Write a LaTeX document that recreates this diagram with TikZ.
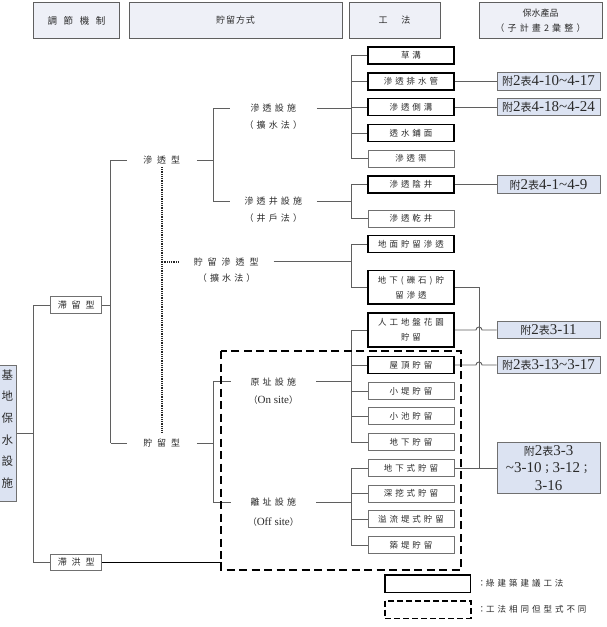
\documentclass[tikz,border=0pt]{standalone}
\usepackage{fontspec}
\setmainfont{Liberation Serif}
\newfontfamily\cjk{Noto Sans CJK TC}
\newfontfamily\cjka[LetterSpace=35]{Noto Sans CJK TC}
\newfontfamily\cjkb[LetterSpace=55]{Noto Sans CJK TC}
\newfontfamily\cjkc[LetterSpace=70]{Noto Sans CJK TC}
\usetikzlibrary{calc}
\definecolor{prodfill}{HTML}{DCE3F2}
\definecolor{hdrfill}{HTML}{EEF0F7}
\definecolor{ln}{HTML}{5F5F5F}
\definecolor{thinb}{HTML}{707070}
\definecolor{tx}{HTML}{2A2A2A}
\newcommand\fu{{\cjk\fontsize{11}{11}\selectfont 附}}
\newcommand\bi{{\cjk\fontsize{11}{11}\selectfont 表}}
\newcommand\sm{{\cjk\fontsize{11}{11}\selectfont ；}}
\begin{document}
\begin{tikzpicture}[x=1pt,y=-1pt,
  bb/.style={draw=black,line width=1.5pt,minimum width=86pt,minimum height=17pt,inner sep=0pt,
    font=\cjka\fontsize{8.5}{15}\selectfont,text=tx,align=center},
  bt/.style={bb,draw=thinb,line width=1pt},
  prod/.style={draw=thinb,fill=prodfill,line width=1pt,minimum width=103pt,minimum height=17.5pt,
    inner sep=0pt,font=\fontsize{15}{17.5}\selectfont,text=tx,align=center},
  hd/.style={draw=ln,fill=hdrfill,line width=0.9pt,minimum height=35.5pt,inner sep=0pt,text=tx,align=center},
  lab/.style={inner sep=1pt,minimum height=0pt,text=tx,align=center},
  laba/.style={lab,font=\cjka\fontsize{9}{12}\selectfont},
  labb/.style={lab,font=\cjkb\fontsize{9}{12}\selectfont},
  cn/.style={draw=ln,line width=0.9pt},
  dotl/.style={draw=black!85,line width=2pt,dash pattern=on 0.9pt off 0.9pt},
  dsh/.style={draw=black,line width=2.2pt,dash pattern=on 8pt off 4.5pt},
  thk/.style={draw=black,line width=1.6pt}
]
\useasboundingbox[fill=white] (0,0) rectangle (606,627);

% headers
\node[hd,minimum width=86pt,font=\cjkc\fontsize{9.5}{12}\selectfont] (h1) at (76.5,20.5) {調節機制};
\node[hd,minimum width=213pt,font=\cjk\fontsize{9}{12}\selectfont] (h2) at (235.5,20.5) {貯\hspace{1pt}留\hspace{1pt}方\hspace{1pt}式};
\node[hd,minimum width=91pt,font=\cjk\fontsize{9}{12}\selectfont] (h3) at (394.5,20.5) {工\hspace{14pt}法};
\node[hd,minimum width=123pt,font=\cjk\fontsize{9}{15}\selectfont] (h4) at (540.5,20.5) {保水產品\\{\cjka（子計畫2彙整）}};

% left main box
\node[draw=thinb,fill=prodfill,line width=1pt,minimum width=26pt,minimum height=136.7pt,inner sep=0pt] (main) at (3,433.35) {};
\node[lab,font=\cjk\fontsize{11.5}{21.6}\selectfont] (maint) at (7.5,429) {基\\地\\保\\水\\設\\施};

% column 2
\node[bt,minimum width=51pt,minimum height=16.6pt,font=\cjkb\fontsize{9}{12}\selectfont] (dl) at (76.2,305) {滯留型};
\node[bt,minimum width=51pt,minimum height=16.6pt,font=\cjkb\fontsize{9}{12}\selectfont] (dh) at (76.2,562.3) {滯洪型};

% column 3 / 4 labels
\node[labb,minimum width=70pt] (st) at (161.7,160) {滲透型};
\node[labb,minimum width=70pt] (zl) at (161.7,443) {貯留型};
\node[laba,minimum width=86.7pt] (ss) at (273.3,108.3) {滲透設施};
\node[laba] (ssp) at (273.3,125) {（擴水法）};
\node[laba,minimum width=86.7pt] (sj) at (273.3,201) {滲透井設施};
\node[laba] (sjp) at (273.3,218.3) {（井戶法）};
\node[labb,minimum width=94.3pt] (rs) at (226.2,261.7) {貯留滲透型};
\node[laba] (rsp) at (226.7,278.3) {（擴水法）};
\node[laba,minimum width=85pt] (yz) at (273.3,381.7) {原址設施};
\node[lab,font=\fontsize{11}{13}\selectfont] (yzp) at (273.3,400) {{\cjk\fontsize{9}{12}\selectfont （}On site{\cjk\fontsize{9}{12}\selectfont ）}};
\node[laba,minimum width=85pt] (lz) at (273.3,502) {離址設施};
\node[lab,font=\fontsize{11}{13}\selectfont] (lzp) at (273.3,521.7) {{\cjk\fontsize{9}{12}\selectfont （}Off site{\cjk\fontsize{9}{12}\selectfont ）}};

% column 5 boxes
\node[bb] (b1) at (411,55.3) {草溝};
\node[bb] (b2) at (411,81.3) {滲透排水管};
\node[bb] (b3) at (411,107) {滲透側溝};
\node[bb] (b4) at (411,133) {透水鋪面};
\node[bt] (b5) at (411,158.5) {滲透渠};
\node[bb] (b6) at (411,184.5) {滲透陰井};
\node[bt] (b7) at (411,218.5) {滲透乾井};
\node[bb] (b8) at (411,244.2) {地面貯留滲透};
\node[bb,minimum height=33.3pt] (b9) at (411,287.3) {地下(礫石)貯\\留滲透};
\node[bb,minimum height=34pt] (b10) at (411,330) {人工地盤花園\\貯留};
\node[bb] (b11) at (411,365) {屋頂貯留};
\node[bt] (b12) at (411,391.3) {小堤貯留};
\node[bt] (b13) at (411,416.3) {小池貯留};
\node[bt] (b14) at (411,442) {地下貯留};
\node[bt] (b15) at (411,468) {地下式貯留};
\node[bt] (b16) at (411,493.5) {深挖式貯留};
\node[bt] (b17) at (411,519) {溢流堤式貯留};
\node[bt] (b18) at (411,545) {築堤貯留};

% products
\node[prod] (pA) at (548.5,81.3) {\fu2\bi 4-10\textasciitilde 4-17};
\node[prod] (pB) at (548.5,107) {\fu2\bi 4-18\textasciitilde 4-24};
\node[prod] (pC) at (548.5,184.5) {\fu2\bi 4-1\textasciitilde 4-9};
\node[prod] (pD) at (548.5,330) {\fu2\bi 3-11};
\node[prod] (pE) at (548.5,365) {\fu2\bi 3-13\textasciitilde 3-17};
\node[prod,minimum height=51pt] (pF) at (548.5,468) {\fu2\bi 3-3\\\textasciitilde 3-10\sm 3-12\sm\\3-16};

% coordinates
\coordinate (t0) at (33.3,433.35);
\coordinate (t1) at (33.3,305);
\coordinate (t2) at (33.3,562.3);
\coordinate (u1) at (110.7,160);
\coordinate (u2) at (110.7,443);
\coordinate (w1) at (213.3,108.3);
\coordinate (w2) at (213.3,201);
\coordinate (w3) at (213.3,381.7);
\coordinate (w4) at (213.3,502);
\coordinate (g) at (351,0);
\coordinate (h) at (479,0);
\coordinate (d1) at (161.7,167);
\coordinate (d2) at (161.7,432);
\coordinate (r1) at (220.7,351);
\coordinate (r2) at (461,570);

% connectors
\draw[cn] (main.east |- t0) -- (t0);
\draw[cn] (t1) -- (t2);
\draw[cn] (t1) -- (dl.west);
\draw[cn] (t2) -- (dh.west);
\draw[cn] (dl.east) -- (dl.east -| u1);
\draw[cn] (u1) -- (u2);
\draw[cn] (u1) -- (st.west);
\draw[cn] (u2) -- (zl.west);
\draw[cn] (st.east) -- (st.east -| w1);
\draw[cn] (w1) -- (w2);
\draw[cn] (w1) -- (ss.west);
\draw[cn] (w2) -- (sj.west);
\draw[cn] (zl.east) -- (zl.east -| w3);
\draw[cn] (w3) -- (w4);
\draw[cn] (w3) -- (yz.west);
\draw[cn] (w4) -- (lz.west);
\draw[dotl] (d1) -- (d2);
\draw[dotl] (d1 |- rs.west) -- (rs.west);

% column 5 groups
\draw[cn] (b1.west -| g) -- (b5.west -| g);
\foreach \b in {b1,b2,b3,b4,b5} {\draw[cn] (\b.west -| g) -- (\b.west);}
\draw[cn] (ss.east) -- (ss.east -| g);
\draw[cn] (b6.west -| g) -- (b7.west -| g);
\foreach \b in {b6,b7} {\draw[cn] (\b.west -| g) -- (\b.west);}
\draw[cn] (sj.east) -- (sj.east -| g);
\draw[cn] (b8.west -| g) -- (b9.west -| g);
\foreach \b in {b8,b9} {\draw[cn] (\b.west -| g) -- (\b.west);}
\draw[cn] (rs.east) -- (rs.east -| g);
\draw[cn] (b10.west -| g) -- (b14.west -| g);
\foreach \b in {b10,b11,b12,b13,b14} {\draw[cn] (\b.west -| g) -- (\b.west);}
\draw[cn] (yz.east) -- (yz.east -| g);
\draw[cn] (b15.west -| g) -- (b18.west -| g);
\foreach \b in {b15,b16,b17,b18} {\draw[cn] (\b.west -| g) -- (\b.west);}
\draw[cn] (lz.east) -- (lz.east -| g);

% to products
\draw[cn] (b2.east) -- (pA.west);
\draw[cn] (b3.east) -- (pB.west);
\draw[cn] (b6.east) -- (pC.west);
\draw[cn] (b9.east) -- (b9.east -| h) -- (b15.east -| h);
\draw[cn] (b15.east) -- (pF.west);
\draw[cn] (b10.east) -- ($(b10.east -| h)+(-3,0)$) arc[start angle=180,end angle=0,radius=3pt] -- (pD.west);
\draw[cn] (b11.east) -- ($(b11.east -| h)+(-3,0)$) arc[start angle=180,end angle=0,radius=3pt] -- (pE.west);

% dashed region and flood line
\draw[dsh] (r1) rectangle (r2);
\draw[thk] (dh.east) -- (dh.east -| r1) -- (r1 |- r2);

% legend
\node[bb,minimum width=85.7pt,minimum height=17.3pt] (lg1) at (427.85,583.65) {};
\node[bb,minimum width=85.7pt,minimum height=17.6pt,line width=1.6pt,dash pattern=on 6pt off 3pt] (lg2) at (427.85,609.5) {};
\node[lab,anchor=west,font=\cjk\fontsize{8.5}{11}\selectfont] (lt1) at ([xshift=5pt]lg1.east) {：{\cjka 綠建築建議工法}};
\node[lab,anchor=west,font=\cjk\fontsize{8.5}{11}\selectfont] (lt2) at ([xshift=5pt]lg2.east) {：{\cjka 工法相同但型式不同}};
\end{tikzpicture}
\end{document}
